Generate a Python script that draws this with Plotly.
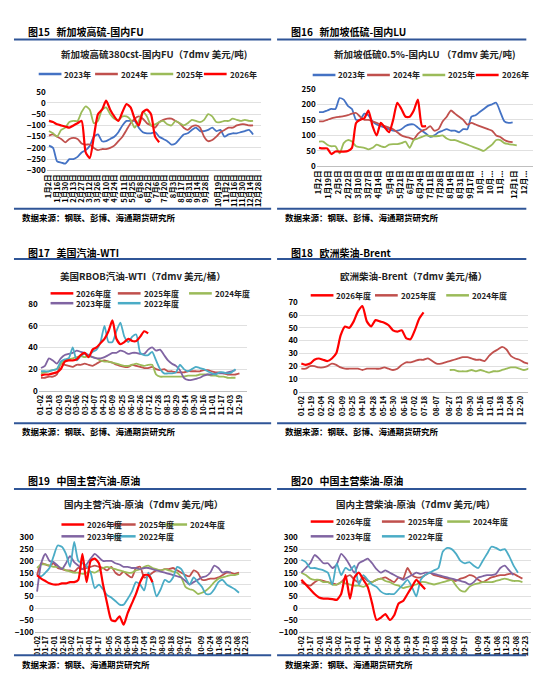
import datetime
import plotly.graph_objects as go

W, H = 550, 673

# ---- data (weekly values, first point on start day) ----
fu_2023 = [-190, -200, -260, -265, -270, -250, -250, -240, -220, -210, -190, -150, -140, -170, -170, -160, -150, -130, -100, -80, -80, -80,
           -110, -130, -135, -135, -130, -150, -160, -170, -185, -180, -160, -140, -135, -120, -110, -125, -125, -120, -110, -125, -120,
           -150, -140, -135, -135, -130, -125, -120, -140]
fu_2024 = [-145, -140, -150, -160, -175, -160, -155, -160, -180, -185, -185, -200, -210, -205, -205, -200, -190, -170, -150, -120, -90,
           -70, -60, -70, -90, -100, -110, -85, -75, -70, -70, -80, -90, -110, -120, -105, -100, -110, -150, -170, -165, -150, -130,
           -120, -110, -110, -100, -95, -95, -100, -100]
fu_2025 = [-125, -135, -150, -120, -110, -85, -80, -80, -40, -15, -30, -90, -80, -30, -20, -50, -70, -75, -60, -60, -75, -110, -80, -40,
           -60, -100, -95, -85, -80, -95, -100, -80, -90, -100, -90, -75, -80, -85, -75, -50, -60, -85, -85, -80, -80, -70, -75, -80,
           -75, -80, -80]
fu_2026 = [-80, -85, -95, -100, -105, -110, -100, -90, -80, -220, -245, -150, -50, -30, 10, -30, -60, -80, -40, -5, -20, -70, -100,
           -40, -30, -50, -150, -175]

lu_2023 = [175, 175, 180, 185, 185, 220, 215, 195, 185, 150, 150, 170, 165, 145, 135, 130, 125, 120, 115, 115, 120, 130, 135, 135, 125,
           115, 105, 95, 100, 110, 115, 120, 115, 115, 110, 120, 120, 160, 165, 175, 185, 195, 200, 205, 175, 145, 140, 142]
lu_2024 = [145, 145, 150, 155, 158, 160, 162, 165, 170, 172, 160, 150, 150, 145, 140, 135, 130, 125, 120, 110, 100, 95, 92, 88, 105,
           115, 120, 130, 115, 120, 145, 160, 180, 170, 160, 150, 135, 140, 135, 130, 125, 120, 115, 100, 95, 85, 80, 78]
lu_2025 = [80, 80, 70, 65, 65, 42, 75, 85, 80, 65, 62, 60, 55, 60, 70, 65, 62, 70, 72, 72, 75, 80, 60, 85, 90, 95, 100, 98, 97, 98,
           100, 90, 85, 85, 80, 75, 70, 65, 60, 55, 50, 60, 70, 85, 85, 75, 72, 70, 68]
lu_2026 = [60, 58, 58, 40, 48, 48, 48, 50, 60, 140, 150, 155, 180, 130, 100, 140, 125, 110, 150, 205, 185, 160, 160, 180, 215, 130, 130]

wti_2026 = [14, 15, 15, 16, 17, 20, 27, 28, 28, 29, 33, 35, 31, 38, 40, 44, 48, 55, 65, 48, 43, 45, 48, 46, 46, 50, 55, 53]
wti_2025 = [12, 12, 13, 13, 15, 25, 24, 23, 22, 24, 24, 25, 24, 23, 25, 27, 28, 27, 26, 24, 23, 22, 22, 24, 23, 22, 21, 21, 22, 20,
            19, 20, 18, 18, 17, 17, 17, 18, 18, 18, 18, 19, 19, 18, 17, 17, 16, 15, 15, 15, 16]
wti_2024 = [16, 17, 18, 19, 20, 25, 28, 29, 30, 31, 32, 31, 32, 31, 30, 28, 27, 27, 26, 25, 24, 23, 23, 24, 25, 24, 23, 24, 24, 15,
            13, 13, 13, 13, 13, 13, 13, 14, 14, 14, 15, 15, 15, 14, 14, 13, 13, 12, 12, 12]
wti_2023 = [21, 23, 30, 28, 25, 30, 33, 34, 35, 37, 36, 35, 33, 31, 30, 30, 31, 33, 35, 35, 37, 36, 34, 35, 35, 34, 34, 38, 40, 37,
            38, 33, 28, 25, 23, 19, 12, 10, 10, 11, 12, 14, 15, 15, 16, 16, 16, 17, 18, 19]
wti_2022 = [18, 18, 18, 19, 20, 27, 29, 30, 40, 28, 32, 34, 32, 36, 38, 45, 60, 45, 45, 55, 63, 50, 45, 50, 52, 35, 33, 33, 36, 28,
            20, 16, 16, 16, 17, 24, 20, 18, 20, 22, 21, 20, 18, 16, 15, 17, 17, 16, 17, 20]

brent_2026 = [22, 21, 22, 25, 26, 25, 24, 26, 30, 44, 51, 50, 55, 63, 67, 55, 51, 56, 55, 54, 52, 48, 47, 48, 42, 41, 48, 57, 62]
brent_2025 = [18, 18, 20, 20, 19, 19, 20, 22, 21, 19, 18, 18, 18, 18, 17, 18, 18, 18, 18, 19, 18, 17, 18, 21, 23, 23, 24, 25, 25,
              26, 24, 22, 22, 23, 24, 25, 26, 27, 27, 26, 25, 25, 24, 28, 31, 33, 35, 33, 28, 26, 25, 23, 22]
brent_2024 = [17, 17, 16, 16, 16, 17, 16, 17, 16, 15, 16, 16, 17, 18, 19, 19, 18, 17, 18, 19, 18]

gas_2026 = [140, 125, 115, 105, 100, 100, 105, 105, 110, 110, 120, 230, 110, 200, 210, 190, 100, 20, -50, -55, -35, -70, -20, 20,
            60, 110, 140, 140, 110]
gas_2025 = [140, 190, 185, 180, 190, 170, 165, 160, 160, 155, 170, 165, 170, 175, 180, 175, 170, 160, 175, 150, 140, 155, 140, 130,
            170, 175, 130, 135, 150, 160, 160, 165, 165, 170, 160, 150, 140, 135, 160, 150, 120, 120, 125, 125, 130, 140, 150, 150,
            145, 150]
gas_2024 = [170, 185, 185, 180, 175, 175, 170, 160, 155, 150, 150, 145, 150, 155, 150, 160, 170, 175, 170, 165, 160, 155, 150, 150,
            160, 165, 175, 180, 170, 165, 160, 165, 160, 155, 150, 130, 90, 80, 75, 60, 65, 75, 90, 110, 125, 130, 135, 140, 140, 145]
gas_2023 = [70, 190, 230, 200, 195, 180, 165, 190, 220, 195, 180, 165, 185, 210, 230, 215, 200, 200, 200, 190, 185, 175, 175, 170,
            170, 165, 170, 170, 165, 160, 155, 150, 145, 140, 135, 130, 115, 100, 110, 120, 130, 135, 150, 180, 170, 150, 155, 150]
gas_2022 = [140, 135, 150, 170, 220, 265, 260, 230, 175, 280, 200, 190, 180, 150, 85, 100, 80, 55, 45, 30, 15, 15, 40, 70, 110, 100,
            75, 150, 110, 50, 80, 120, 110, 130, 175, 165, 130, 100, 130, 110, 90, 60, 60, 80, 110, 120, 100, 90, 80, 65]

dsl_2026 = [120, 100, 80, 60, 45, 40, 40, 38, 35, 60, 140, 40, 130, 150, 120, 90, 20, -50, -40, -25, -50, -30, 20, 30, 60, 90, 120,
            100, 80]
dsl_2025 = [110, 100, 95, 110, 120, 115, 110, 105, 100, 110, 130, 140, 120, 110, 130, 115, 110, 120, 125, 130, 120, 110, 130, 125,
            170, 140, 130, 130, 140, 150, 140, 135, 130, 125, 120, 115, 125, 130, 140, 135, 120, 110, 120, 130, 135, 140, 140, 145,
            145, 135, 125]
dsl_2024 = [150, 140, 125, 120, 120, 110, 110, 100, 100, 110, 105, 100, 95, 95, 90, 100, 110, 120, 125, 115, 110, 100, 95, 85, 90,
            95, 100, 110, 110, 105, 100, 105, 110, 115, 120, 95, 75, 70, 90, 100, 105, 110, 110, 110, 115, 120, 125, 120, 115, 115, 110]
dsl_2023 = [150, 170, 190, 225, 210, 190, 190, 170, 185, 230, 210, 180, 150, 190, 200, 210, 190, 165, 150, 160, 150, 140, 130, 120,
            130, 140, 150, 145, 150, 150, 145, 140, 135, 130, 125, 120, 115, 110, 100, 110, 130, 135, 140, 140, 145, 170, 180, 160, 140]
dsl_2022 = [205, 195, 170, 170, 165, 160, 150, 100, 190, 140, 170, 160, 180, 100, 140, 120, 100, 90, 70, 60, 60, 60, 80, 100, 120, 90,
            50, 120, 140, 150, 160, 170, 240, 255, 250, 230, 200, 190, 195, 180, 170, 200, 230, 260, 255, 245, 250, 220, 180, 150]

ticks_fu = ["1月2日", "1月16日", "1月30日", "2月13日", "2月27日", "3月12日", "3月26日", "4月10日", "4月24日", "5月11日", "5月25日",
            "6月8日", "6月22日", "7月6日", "7月20日", "8月3日", "8月17日", "8月31日", "9月14日", "9月28日", "10月19日", "11月2日",
            "11月16日", "11月30日", "12月14日", "12月28日"]
ticks_lu = ["1月2日", "1月19日", "2月5日", "2月22日", "3月10日", "3月27日", "4月14日", "5月4日", "5月21日", "6月7日", "6月24日",
            "7月11日", "7月28日", "8月14日", "8月31日", "9月17日", "10月...", "10月...", "11月...", "12月1日", "12月..."]
ticks_lu_pos = ["01-02", "01-19", "02-05", "02-22", "03-10", "03-27", "04-14", "05-04", "05-21", "06-07", "06-24", "07-11", "07-28",
                "08-14", "08-31", "09-17", "10-04", "10-21", "11-07", "12-01", "12-18"]
ticks_wti = ["01-02", "01-18", "02-03", "02-19", "03-06", "03-22", "04-07", "04-23", "05-09", "05-25", "06-10", "06-26", "07-12",
             "07-28", "08-13", "08-29", "09-14", "09-30", "10-16", "11-01", "11-17", "12-03", "12-19"]
ticks_brent = ["01-02", "01-19", "02-04", "02-20", "03-09", "03-25", "04-10", "04-28", "05-14", "05-30", "06-16", "07-02", "07-18",
               "08-07", "08-27", "09-13", "09-30", "10-16", "11-01", "11-18", "12-04", "12-20"]
ticks_cn = ["01-02", "01-17", "02-01", "02-16", "03-02", "03-17", "04-01", "04-17", "05-05", "05-20", "06-04", "06-19", "07-04",
            "07-19", "08-03", "08-18", "09-02", "09-17", "10-09", "10-24", "11-08", "11-23", "12-08", "12-23"]

BLUE, DRED, GREEN, RED, PURPLE, CYAN = "#4472C4", "#C0504D", "#9BBB59", "#FF0000", "#8064A2", "#4BACC6"
FONT = "Noto Sans CJK SC"


def doy(s):
    s = s.replace("月", "-").replace("日", "")
    m, d = s.split("-")
    return datetime.date(2023, int(m), int(d)).timetuple().tm_yday


def weekly(vals, start=2):
    return [start + 7 * i for i in range(len(vals))]


fig = go.Figure()

# panel geometry in pixels: plot x0, x1, y top, y bottom
panels = [
    dict(x=(35, 252), y=(79, 159), rng=[-300, 50], dt=50, ticks=ticks_fu, pos=[doy(t) for t in ticks_fu],
         title="新加坡高硫380cst-国内FU（7dmv 美元/吨)", head="图15   新加坡高硫-国内FU", src="数据来源：钢联、彭博、海通期货研究所"),
    dict(x=(308, 527), y=(76, 155), rng=[0, 250], dt=50, ticks=ticks_lu, pos=[doy(t) for t in ticks_lu_pos],
         title="新加坡低硫0.5%-国内LU （7dmv 美元/吨)", head="图16   新加坡低硫-国内LU", src="数据来源：钢联、彭博、海通期货研究所"),
    dict(x=(27, 238), y=(295, 383), rng=[0, 80], dt=20, ticks=ticks_wti, pos=[doy(t) for t in ticks_wti],
         title="美国RBOB汽油-WTI（7dmv 美元/桶）", head="图17   美国汽油-WTI", src="数据来源：钢联、彭博、海通期货研究所"),
    dict(x=(290, 522), y=(293, 384), rng=[0, 70], dt=10, ticks=ticks_brent, pos=[doy(t) for t in ticks_brent],
         title="欧洲柴油-Brent（7dmv 美元/桶）", head="图18   欧洲柴油-Brent", src="数据来源：钢联、彭博、海通期货研究所"),
    dict(x=(23, 242), y=(532, 628), rng=[-100, 300], dt=50, ticks=ticks_cn, pos=[doy(t) for t in ticks_cn],
         title="国内主营汽油-原油（7dmv 美元/吨）", head="图19   中国主营汽油-原油", src="数据来源：钢联、海通期货研究所"),
    dict(x=(290, 525), y=(532, 628), rng=[-100, 300], dt=50, ticks=ticks_cn, pos=[doy(t) for t in ticks_cn],
         title="国内主营柴油-原油（7dmv 美元/吨）", head="图20   中国主营柴油-原油", src="数据来源：钢联、海通期货研究所"),
]
# header y, rule y, title y, bottom rule y, source y per row
rows = [(18, 26, 41, 198, 206), (242, 249, 266, 416, 424), (474, 483, 498, 652, 661)]

series = [
    [("2023年", fu_2023, BLUE, 2), ("2024年", fu_2024, DRED, 2), ("2025年", fu_2025, GREEN, 2), ("2026年", fu_2026, RED, 2)],
    [("2023年", lu_2023, BLUE, 2), ("2024年", lu_2024, DRED, 2), ("2025年", lu_2025, GREEN, 2), ("2026年", lu_2026, RED, 2)],
    [("2026年度", wti_2026, RED, 2), ("2025年度", wti_2025, DRED, 2), ("2024年度", wti_2024, GREEN, 2),
     ("2023年度", wti_2023, PURPLE, 2), ("2022年度", wti_2022, CYAN, 2)],
    [("2026年度", brent_2026, RED, 2), ("2025年度", brent_2025, DRED, 2), ("2024年度", brent_2024, GREEN, 240)],
    [("2026年度", gas_2026, RED, 2), ("2025年度", gas_2025, DRED, 2), ("2024年度", gas_2024, GREEN, 2),
     ("2023年度", gas_2023, PURPLE, 2), ("2022年度", gas_2022, CYAN, 2)],
    [("2026年度", dsl_2026, RED, 2), ("2025年度", dsl_2025, DRED, 2), ("2024年度", dsl_2024, GREEN, 2),
     ("2023年度", dsl_2023, PURPLE, 2), ("2022年度", dsl_2022, CYAN, 2)],
]

# hand-placed legend slots (x px, y px), one per series, in series order
legend_slots = [
    [(30, 61), (87, 61), (143, 61), (197, 61)],
    [(307, 62), (362, 62), (418, 62), (472, 62)],
    [(42, 284), (110, 284), (182, 284), (42, 294), (110, 294)],
    [(305, 286), (370, 286), (442, 286)],
    [(53, 519), (105, 519), (157, 519), (53, 531), (105, 531)],
    [(305, 516), (377, 516), (443, 516), (305, 531), (377, 531)],
]

layout = dict(width=W, height=H, margin=dict(l=0, r=0, t=0, b=0), paper_bgcolor="white", plot_bgcolor="white",
              font=dict(family=FONT, size=8, color="black"), annotations=[], shapes=[], showlegend=False)

for k, p in enumerate(panels):
    n = "" if k == 0 else str(k + 1)
    order = sorted(range(len(series[k])), key=lambda i: series[k][i][2] == RED)
    for i in order:
        name, vals, col, start = series[k][i]
        fig.add_trace(go.Scatter(x=weekly(vals, start), y=vals, name=name, mode="lines",
                                 line=dict(color=col, width=2.2 if col == RED else 1.8, shape="spline", smoothing=0.6),
                                 xaxis="x" + n, yaxis="y" + n))
    for (name, vals, col, start), (lx, ly) in zip(series[k], legend_slots[k]):
        layout["shapes"].append(dict(type="line", xref="paper", yref="paper", x0=(lx - 3) / W, x1=(lx + 20) / W,
                                     y0=1 - ly / H, y1=1 - ly / H, line=dict(color=col, width=2.5)))
        layout["annotations"].append(dict(text="<b>" + name + "</b>", x=(lx + 21) / W, y=1 - ly / H, xref="paper",
                                          yref="paper", xanchor="left", yanchor="middle", showarrow=False,
                                          font=dict(size=8, color="#222")))
    layout["xaxis" + n] = dict(domain=[p["x"][0] / W, p["x"][1] / W], anchor="y" + n, range=[-2, 366],
                               tickvals=p["pos"], ticktext=p["ticks"], tickangle=-90, showgrid=False,
                               showline=True, linecolor="#BFBFBF", ticks="",
                               tickfont=dict(size=7.5, weight="bold"), zeroline=False)
    layout["yaxis" + n] = dict(domain=[1 - p["y"][1] / H, 1 - p["y"][0] / H], anchor="x" + n, range=p["rng"],
                               dtick=p["dt"], showgrid=True, gridcolor="#E0E0E0", zeroline=False,
                               tickfont=dict(size=8, weight="bold"), ticks="")
    hx = 2 if k % 2 == 0 else 268
    rx1 = 262 if k % 2 == 0 else 520
    hy, ry, ty, by, sy = rows[k // 2]
    layout["annotations"] += [
        dict(text="<b>" + p["head"] + "</b>", x=(hx + 12) / W, y=1 - hy / H, xref="paper", yref="paper",
             xanchor="left", yanchor="middle", showarrow=False, font=dict(size=10)),
        dict(text="<b>" + p["title"] + "</b>", x=(p["x"][0] + p["x"][1]) / 2 / W, y=1 - ty / H, xref="paper",
             yref="paper", xanchor="center", yanchor="middle", showarrow=False, font=dict(size=9.5, color="#222")),
        dict(text="<b>" + p["src"] + "</b>", x=(hx + 6) / W, y=1 - sy / H, xref="paper", yref="paper",
             xanchor="left", yanchor="middle", showarrow=False, font=dict(size=8.5)),
    ]
    for yy in (ry, by):
        layout["shapes"].append(dict(type="line", xref="paper", yref="paper", x0=hx / W, x1=rx1 / W,
                                     y0=1 - yy / H, y1=1 - yy / H, line=dict(color="#2F5597", width=2)))

fig.update_layout(**layout)
fig.write_html("out.html")
